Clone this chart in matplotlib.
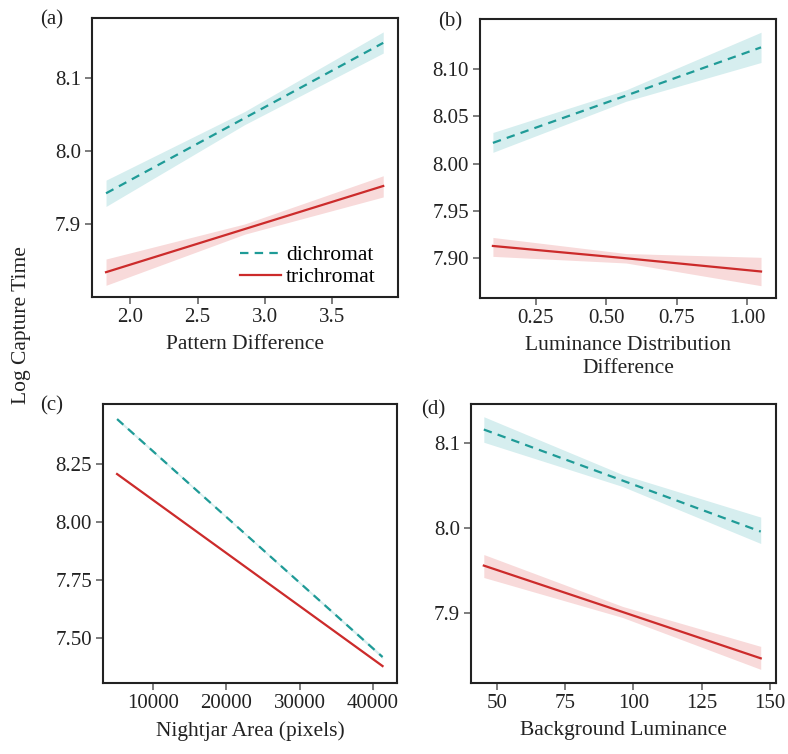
import matplotlib
matplotlib.use('Agg')
import matplotlib.pyplot as plt

plt.rcParams['font.family'] = ['Liberation Serif', 'DejaVu Serif']

# colores
teal = '#1f9b97'
teal_fill = '#d6eeef'
red = '#cc2b2b'
red_fill = '#f8dada'

#%% datos: x (inicio, medio, fin), ajuste y banda
a_x = [1.82, 2.85, 3.88]
a_di = [7.942, 8.045, 8.148]
a_di_lo = [7.924, 8.036, 8.134]
a_di_hi = [7.960, 8.054, 8.163]
a_tri = [7.834, 7.893, 7.952]
a_tri_lo = [7.816, 7.886, 7.937]
a_tri_hi = [7.852, 7.900, 7.966]

b_x = [0.097, 0.57, 1.05]
b_di = [8.022, 8.072, 8.123]
b_di_lo = [8.012, 8.066, 8.107]
b_di_hi = [8.033, 8.078, 8.139]
b_tri = [7.913, 7.900, 7.886]
b_tri_lo = [7.902, 7.895, 7.871]
b_tri_hi = [7.922, 7.905, 7.901]

c_x = [5100, 23200, 41300]
c_di = [8.444, 7.931, 7.418]
c_di_lo = [8.438, 7.927, 7.411]
c_di_hi = [8.450, 7.935, 7.425]
c_tri = [8.207, 7.793, 7.379]
c_tri_lo = [8.203, 7.790, 7.374]
c_tri_hi = [8.211, 7.796, 7.384]

d_x = [45.2, 96.0, 146.6]
d_di = [8.116, 8.056, 7.996]
d_di_lo = [8.101, 8.049, 7.982]
d_di_hi = [8.131, 8.063, 8.013]
d_tri = [7.956, 7.9015, 7.847]
d_tri_lo = [7.942, 7.895, 7.834]
d_tri_hi = [7.969, 7.908, 7.861]

fig = plt.figure(figsize=(7.88, 7.54), dpi=100)

def panel(rect, x, di, di_lo, di_hi, tri, tri_lo, tri_hi, xlim, ylim, xt, xtl, yt, ytl, xlabel):
    ax = fig.add_axes(rect)
    ax.fill_between(x, di_lo, di_hi, color=teal_fill, lw=0)
    ax.fill_between(x, tri_lo, tri_hi, color=red_fill, lw=0)
    ax.plot(x, di, color=teal, lw=1.6, dashes=(3.8, 2.8), label='dichromat')
    ax.plot(x, tri, color=red, lw=1.6, label='trichromat')
    ax.set_xlim(xlim)
    ax.set_ylim(ylim)
    ax.set_xticks(xt)
    ax.set_xticklabels(xtl)
    ax.set_yticks(yt)
    ax.set_yticklabels(ytl)
    ax.tick_params(length=5, width=1.2, color='#666666', labelsize=15, labelcolor='#222222', pad=3)
    for s in ax.spines.values():
        s.set_linewidth(1.5)
        s.set_color('#222222')
    ax.set_xlabel(xlabel, fontsize=15.5, color='#222222', labelpad=6, linespacing=1.25)
    return ax

ax_a = panel([0.1168, 0.6061, 0.3883, 0.370], a_x, a_di, a_di_lo, a_di_hi, a_tri, a_tri_lo, a_tri_hi,
             (1.716, 3.99), (7.80, 8.182), [2.0, 2.5, 3.0, 3.5], ['2.0', '2.5', '3.0', '3.5'],
             [7.9, 8.0, 8.1], ['7.9', '8.0', '8.1'], 'Pattern Difference')
ax_a.legend(loc='lower right', frameon=False, fontsize=15.5, handlelength=1.9, handletextpad=0.25,
            labelspacing=0.1, borderaxespad=0.4, bbox_to_anchor=(0.984, -0.027))

panel([0.6091, 0.6048, 0.3756, 0.370], b_x, b_di, b_di_lo, b_di_hi, b_tri, b_tri_lo, b_tri_hi,
      (0.051, 1.103), (7.858, 8.153), [0.25, 0.5, 0.75, 1.0], ['0.25', '0.50', '0.75', '1.00'],
      [7.90, 7.95, 8.00, 8.05, 8.10], ['7.90', '7.95', '8.00', '8.05', '8.10'],
      'Luminance Distribution\nDifference')

panel([0.1307, 0.0942, 0.3731, 0.370], c_x, c_di, c_di_lo, c_di_hi, c_tri, c_tri_lo, c_tri_hi,
      (3180, 43270), (7.306, 8.509), [10000, 20000, 30000, 40000], ['10000', '20000', '30000', '40000'],
      [7.50, 7.75, 8.00, 8.25], ['7.50', '7.75', '8.00', '8.25'], 'Nightjar Area (pixels)')

panel([0.5977, 0.0942, 0.3871, 0.370], d_x, d_di, d_di_lo, d_di_hi, d_tri, d_tri_lo, d_tri_hi,
      (40.5, 152.2), (7.818, 8.146), [50, 75, 100, 125, 150], ['50', '75', '100', '125', '150'],
      [7.9, 8.0, 8.1], ['7.9', '8.0', '8.1'], 'Background Luminance')

fig.text(22 / 788, 1 - 325 / 754, 'Log Capture Time', rotation=90, ha='center', va='center',
         fontsize=15.5, color='#222222')

for lab, px, py in [('(a)', 52, 20), ('(b)', 450, 22), ('(c)', 52, 406), ('(d)', 433, 410)]:
    fig.text(px / 788, 1 - py / 754, lab, ha='center', va='center', fontsize=15, color='#222222')

fig.savefig('out.png', dpi=100)
